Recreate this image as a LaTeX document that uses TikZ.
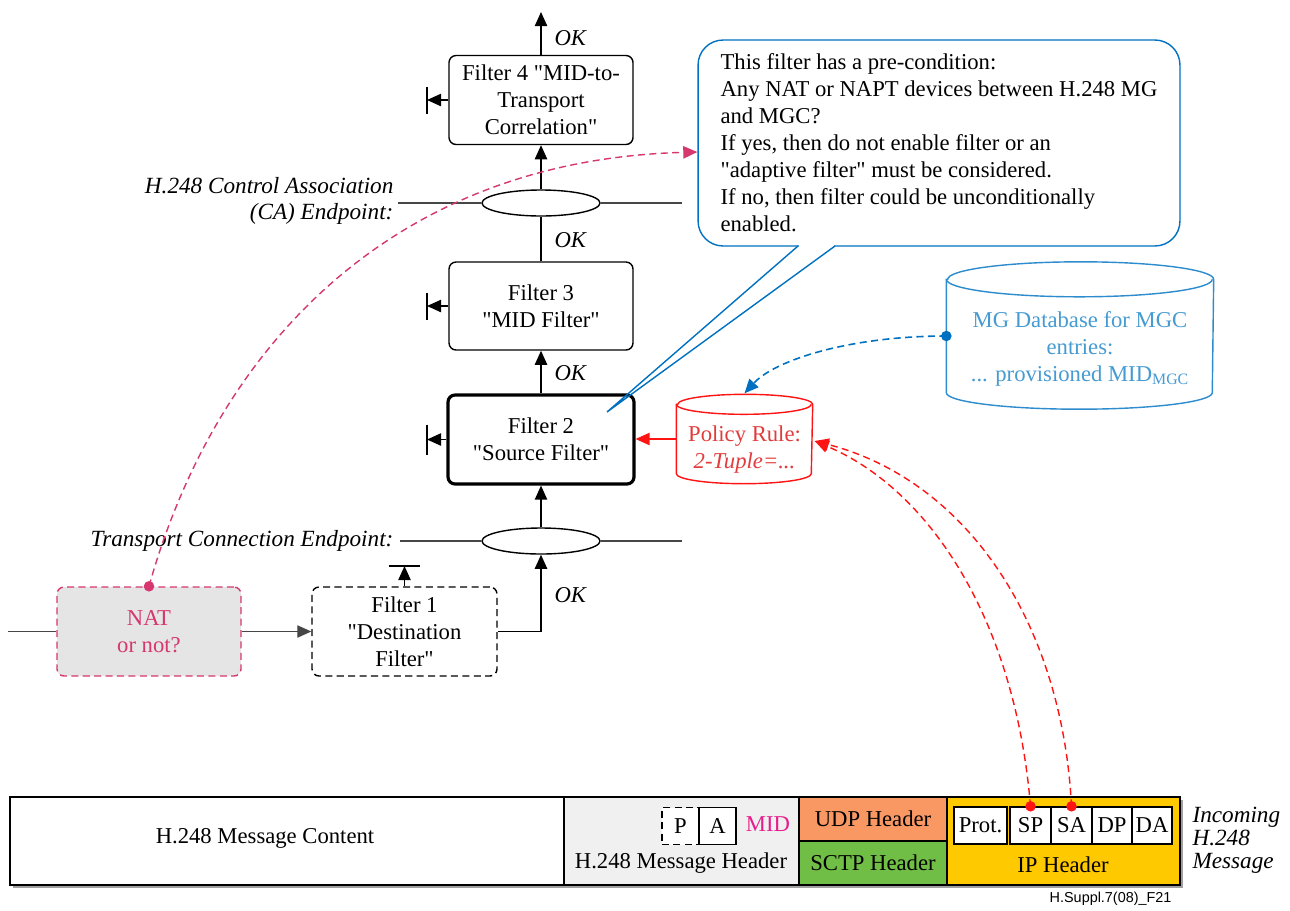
\documentclass[tikz,border=0pt]{standalone}
\usepackage{fontspec}
\setmainfont{Liberation Serif}
\newfontfamily\qfont{Liberation Serif}
\newfontfamily\footfont{Liberation Sans}
\usetikzlibrary{arrows.meta,shapes.geometric,calc}
\newcommand{\dq}{{\qfont\symbol{34}}}
\definecolor{bubblue}{RGB}{0,112,192}
\definecolor{dbblue}{RGB}{45,140,205}
\definecolor{dbtext}{RGB}{70,155,210}
\definecolor{polred}{RGB}{255,20,20}
\definecolor{poltext}{RGB}{225,60,60}
\definecolor{natmag}{RGB}{214,55,110}
\definecolor{midmag}{RGB}{230,30,140}
\definecolor{natgray}{RGB}{229,229,229}
\definecolor{hdrgray}{RGB}{240,240,240}
\definecolor{udporange}{RGB}{250,152,100}
\definecolor{sctpgreen}{RGB}{112,190,70}
\definecolor{ipyellow}{RGB}{255,201,0}
\definecolor{shadowgray}{RGB}{160,160,160}
\definecolor{linegray}{RGB}{70,70,70}
\begin{document}
\begin{tikzpicture}[x=0.02cm,y=-0.02cm,
  font=\fontsize{12.9}{15.4}\selectfont,
  line width=0.8pt,
  >={Triangle[length=8pt,width=7pt]},
  filt/.style={draw, rounded corners=0.14cm, align=center, minimum width=3.68cm, minimum height=1.78cm, inner sep=2pt},
  endpt/.style={draw, ellipse, minimum width=2.36cm, minimum height=0.52cm, inner sep=0pt},
  oklab/.style={anchor=west, font=\fontsize{12.9}{15.4}\selectfont\itshape},
  field/.style={draw, fill=white, minimum height=0.74cm, inner sep=0pt},
  seg/.style={draw, inner sep=0pt},
  mydash/.style={dash pattern=on 4pt off 2.5pt},
  magdash/.style={natmag, mydash, line width=0.8pt},
  reddash/.style={polred, mydash, line width=0.8pt},
  bluedash/.style={bubblue, mydash, line width=0.9pt},
  dot/.style={circle, fill, inner sep=0pt, minimum size=6pt}
]
\useasboundingbox (0,0) rectangle (1290,910);

% ---------- filter chain ----------
\node[filt] (f4) at (541,100) {Filter 4 \dq MID-to-\\Transport\\Correlation\dq};
\node[endpt] (ca) at (541,203) {};
\node[filt, minimum height=1.76cm] (f3) at (541,306) {Filter 3\\\dq MID Filter\dq};
\node[filt, line width=1.8pt, minimum width=3.72cm] (f2) at (541,439.5) {Filter 2\\\dq Source Filter\dq};
\node[endpt] (tc) at (541,541) {};
\node[filt, mydash, minimum width=3.7cm] (f1) at (404.5,631.5) {Filter 1\\\dq Destination\\Filter\dq};
\node[filt, mydash, draw=natmag, fill=natgray, text=natmag] (nat) at (149,631.5) {NAT\\or not?};

\coordinate (top) at (541,12);
\coordinate (in) at (8,631.5);
\coordinate (caL) at (398,203);
\coordinate (caR) at (682,203);
\coordinate (tcL) at (400,541);
\coordinate (tcR) at (682,541);

\draw[->] (f4.north) -- (top);
\draw[->] (ca.north) -- (f4.south);
\draw (f3.north) -- (ca.south);
\draw[->] (f2.north) -- (f3.south);
\draw[->] (tc.north) -- (f2.south);
\draw[->] (f1.east) -| (tc.south);
\draw[linegray,->] (nat.east) -- (f1.west);
\draw[linegray] (in) -- (nat.west);
\draw[linegray] (caL) -- (ca.west) (ca.east) -- (caR);
\draw[linegray] (tcL) -- (tc.west) (tc.east) -- (tcR);

\node[oklab] (ok4) at (548,38) {OK};
\node[oklab] (ok3) at (548,240) {OK};
\node[oklab] (ok2) at (548,373) {OK};
\node[oklab] (ok1) at (548,595) {OK};

\node[anchor=east, align=right, font=\fontsize{13.2}{14.5}\selectfont\itshape] (calab) at (400,201) {H.248 Control Association\\(CA) Endpoint:};
\node[anchor=east, font=\fontsize{13.2}{15.4}\selectfont\itshape] (tclab) at (400,541) {Transport Connection Endpoint:};

% reject markers
\coordinate (r4) at (427,100);
\coordinate (r3) at (427,306);
\coordinate (r2) at (427,439.5);
\coordinate (r1) at (404.5,566);
\draw[->] (f4.west) -- (r4);
\draw (r4) ++(0,-13) -- ++(0,27);
\draw[->] (f3.west) -- (r3);
\draw (r3) ++(0,-13) -- ++(0,27);
\draw[->] (f2.west) -- (r2);
\draw (r2) ++(0,-15) -- ++(0,30);
\draw[->] (f1.north) -- (r1);
\draw (r1) ++(-16,0) -- ++(31,0);

% ---------- speech bubble ----------
\node[draw=bubblue, rounded corners=0.5cm, minimum width=9.64cm, minimum height=4.12cm,
      align=left, inner sep=0.2cm] (bub) at (939,143)
  {This filter has a pre-condition:\\Any NAT or NAPT devices between H.248 MG\\and MGC?\\If yes, then do not enable filter or an\\\dq adaptive filter\dq\ must be considered.\\If no, then filter could be unconditionally\\enabled.};
\fill[white] (799,243) rectangle (834,249);
\coordinate (tailA) at (798,246);
\coordinate (tailB) at (835,246);
\coordinate (tailTip) at (607,412);
\draw[bubblue] (tailA) -- (tailTip) -- (tailB);

% ---------- policy rule cylinder ----------
\node[minimum width=2.7cm, minimum height=1.36cm, inner sep=0] (pol) at (744.5,439) {};
\draw[polred, fill=white] (pol.north west) -- (pol.south west)
   arc[start angle=180, end angle=360, x radius=1.35cm, y radius=0.2cm]
   -- (pol.north east)
   arc[start angle=0, end angle=180, x radius=1.35cm, y radius=0.2cm] -- cycle;
\draw[polred] (pol.north west) arc[start angle=180, end angle=360, x radius=1.35cm, y radius=0.2cm];
\node[text=poltext, align=center] (poltxt) at (744.5,450) {Policy Rule:\\\textit{2-Tuple=...}};
\draw[polred,->] (pol.west) -- (pol.west -| f2.east);

% ---------- MG database cylinder ----------
\node[minimum width=5.32cm, minimum height=2.24cm, inner sep=0] (db) at (1080,336) {};
\draw[dbblue, fill=white] (db.north west) -- (db.south west)
   arc[start angle=180, end angle=360, x radius=2.66cm, y radius=0.33cm]
   -- (db.north east)
   arc[start angle=0, end angle=180, x radius=2.66cm, y radius=0.35cm] -- cycle;
\draw[dbblue] (db.north west) arc[start angle=180, end angle=360, x radius=2.66cm, y radius=0.35cm];
\node[text=dbtext, align=center] (dbtxt) at (1080,349) {MG Database for MGC\\entries:\\... provisioned MID\textsubscript{MGC}};

\node[dot, bubblue] (dbdot) at (db.west) {};
\draw[bluedash,->] (db.west) .. controls (850,336) and (775,360) .. ($(pol.north)+(0,-11)$);

% ---------- magenta NAT curve ----------
\node[dot, natmag] (natdot) at (nat.north) {};
\draw[magdash,->] (nat.north) .. controls (215,350) and (390,160) .. ($(bub.west)+(0,9)$);

% ---------- bottom message ----------
\fill[shadowgray] (13,800) rectangle (1183,888);
\node[seg, fill=white, minimum width=11.08cm, minimum height=1.76cm] (mc) at (287,841) {};
\node (mctxt) at (265,838) {H.248 Message Content};
\node[seg, fill=hdrgray, minimum width=4.7cm, minimum height=1.76cm] (hdr) at (681.5,841) {};
\node (hdrtxt) at (681,863) {H.248 Message Header};
\node[field, mydash, minimum width=0.74cm] (pfld) at (680.5,826) {P};
\node[field, minimum width=0.74cm] (afld) at (717.5,826) {A};
\node[text=midmag] (mid) at (768,824) {MID};
\node[seg, fill=udporange, minimum width=2.96cm, minimum height=0.88cm] (udp) at (873,819) {UDP Header};
\node[seg, fill=sctpgreen, minimum width=2.96cm, minimum height=0.88cm] (sctp) at (873,863) {SCTP Header};
\node[seg, fill=ipyellow, minimum width=4.66cm, minimum height=1.76cm] (ip) at (1063.5,841) {};
\node (iptxt) at (1063,865) {IP Header};
\node[field, minimum width=1.06cm] (prot) at (980.5,825.5) {Prot.};
\node[field, minimum width=0.82cm] (sp) at (1030.5,825.5) {SP};
\node[field, minimum width=0.82cm] (sa) at (1071.5,825.5) {SA};
\node[field, minimum width=0.8cm] (dp) at (1112,825.5) {DP};
\node[field, minimum width=0.8cm] (da) at (1152,825.5) {DA};

\node[anchor=west, align=left, font=\fontsize{13.2}{13.2}\selectfont\itshape] (inc) at (1186,840) {Incoming\\H.248\\Message};
\node[anchor=east, font=\footfont\fontsize{8.2}{10}\selectfont] (fig) at (1178,899) {H.Suppl.7(08)\_F21};

% ---------- red dashed curves ----------
\node[dot, polred] (spdot) at (sp.north) {};
\node[dot, polred] (sadot) at (sa.north) {};
\draw[reddash,->] (sp.north) .. controls (1015,620) and (930,490) .. ($(pol.east)+(2,2)$);
\draw[reddash,->] (sa.north) .. controls (1062,620) and (965,480) .. ($(pol.east)+(2,2)$);
\end{tikzpicture}
\end{document}
